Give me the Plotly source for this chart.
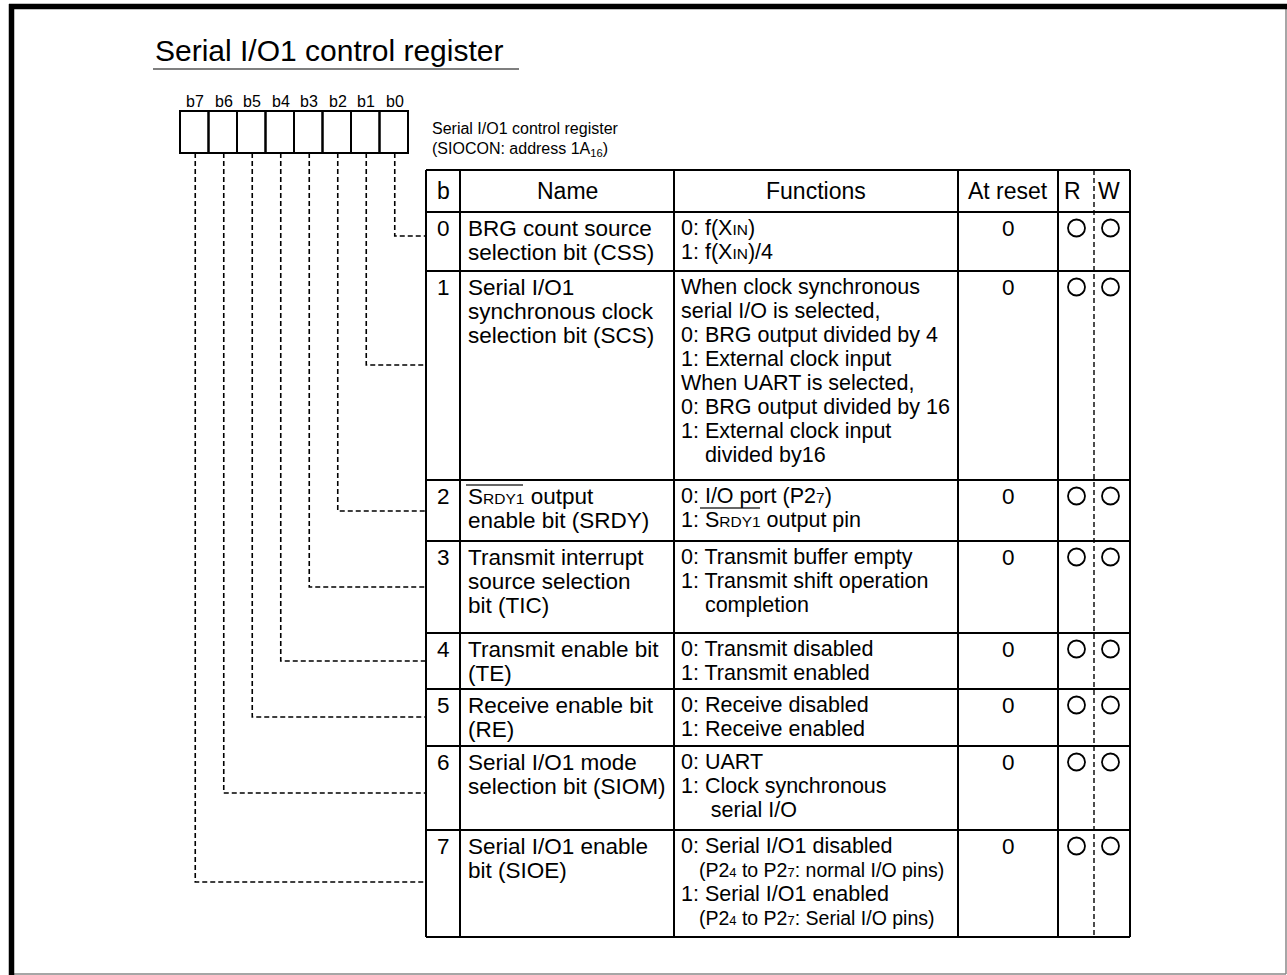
import plotly.graph_objects as go

W, H = 1287, 975
FONT = "Liberation Sans, Arial, Helvetica, sans-serif"
NB = "\u00a0"


def sm(s, px=15.5):
    return f"<span style='font-size:{px}px'>{s}</span>"


# ---------------- data ----------------
title = "Serial I/O1 control register"
caption = ["Serial I/O1 control register", "(SIOCON: address 1A<sub>16</sub>)"]
bit_labels = ["b7", "b6", "b5", "b4", "b3", "b2", "b1", "b0"]
header = ["b", "Name", "Functions", "At reset", "R", "W"]
bit_numbers = ["0", "1", "2", "3", "4", "5", "6", "7"]

names = [
    ["BRG count source", "selection bit (CSS)"],
    ["Serial I/O1", "synchronous clock", "selection bit (SCS)"],
    ["S" + sm("RDY1") + " output", "enable bit (SRDY)"],
    ["Transmit interrupt", "source selection", "bit (TIC)"],
    ["Transmit enable bit", "(TE)"],
    ["Receive enable bit", "(RE)"],
    ["Serial I/O1 mode", "selection bit (SIOM)"],
    ["Serial I/O1 enable", "bit (SIOE)"],
]

functions = [
    ["0: f(X" + sm("IN") + ")", "1: f(X" + sm("IN") + ")/4"],
    ["When clock synchronous", "serial I/O is selected,",
     "0: BRG output divided by 4", "1: External clock input",
     "When UART is selected,", "0: BRG output divided by 16",
     "1: External clock input", NB * 4 + "divided by16"],
    ["0: I/O port (P2" + sm("7") + ")", "1: S" + sm("RDY1") + " output pin"],
    ["0: Transmit buffer empty", "1: Transmit shift operation",
     NB * 4 + "completion"],
    ["0: Transmit disabled", "1: Transmit enabled"],
    ["0: Receive disabled", "1: Receive enabled"],
    ["0: UART", "1: Clock synchronous", NB * 5 + "serial I/O"],
    ["0: Serial I/O1 disabled",
     NB * 3 + sm("(P2" + sm("4", 13) + " to P2" + sm("7", 13) + ": normal I/O pins)", 19.5),
     "1: Serial I/O1 enabled",
     NB * 3 + sm("(P2" + sm("4", 13) + " to P2" + sm("7", 13) + ": Serial I/O pins)", 19.5)],
]

reset_values = ["0", "0", "0", "0", "0", "0", "0", "0"]
readable = [1, 1, 1, 1, 1, 1, 1, 1]
writable = [1, 1, 1, 1, 1, 1, 1, 1]

# ---------------- layout geometry ----------------
reg_left, reg_top, reg_bottom, cell_w = 180, 111, 153, 28.5
col_edges = [426, 460, 674, 958, 1058, 1130]
rw_split = 1094
tbl_top = 170
row_edges = [212, 271, 480, 541, 633, 689, 746, 830, 937]
leader_y = [236, 365, 511, 587, 661, 717, 793, 882]
first_off, line_gap = 16, 24
NAME_SIZE, FUNC_SIZE = 22.5, 21.5

shapes = []
annots = []


def line(x0, y0, x1, y1, width=2, color="black", dash="solid"):
    shapes.append(dict(type="line", x0=x0, y0=y0, x1=x1, y1=y1, xref="x", yref="y",
                       line=dict(color=color, width=width, dash=dash)))


def text(x, y, s, size=NAME_SIZE, xanchor="left"):
    annots.append(dict(x=x, y=y, xref="x", yref="y", text=s, showarrow=False,
                       xanchor=xanchor, yanchor="middle",
                       font=dict(family=FONT, size=size, color="black")))


# frame
line(10, 974, 1286, 974, width=1.5, color="#888888")
line(1286, 4, 1286, 974, width=1.5, color="#888888")
line(9, 6.5, 1287, 6.5, width=5.5)
line(11.5, 4, 11.5, 975, width=5.5)

# title
text(153, 50, title, size=30)
line(153, 69, 519, 69, width=1.5, color="#555555")

# register boxes and bit labels
for k, lab in enumerate(bit_labels):
    x0 = reg_left + k * cell_w
    shapes.append(dict(type="rect", x0=x0, x1=x0 + cell_w, y0=reg_top, y1=reg_bottom,
                       xref="x", yref="y", line=dict(color="black", width=2)))
    text(x0 + cell_w / 2 + 1, 101, lab, size=16, xanchor="center")

# caption
text(430, 128, caption[0], size=16)
text(430, 149, caption[1], size=16)

# leader lines (bit i -> row i)
for i in range(len(bit_numbers)):
    k = 7 - i
    xc = reg_left + k * cell_w + cell_w / 2 + 1
    shapes.append(dict(type="path", xref="x", yref="y",
                       path=f"M {xc},{reg_bottom} V {leader_y[i]} H {col_edges[0]}",
                       line=dict(color="black", width=1.6, dash="5px,3px")))

# table grid
bottom = row_edges[-1]
for xe in col_edges:
    line(xe, tbl_top, xe, bottom)
line(col_edges[0], tbl_top, col_edges[-1], tbl_top)
for ye in row_edges:
    line(col_edges[0], ye, col_edges[-1], ye)
line(rw_split, tbl_top, rw_split, bottom, width=1.4, dash="5px,3px")

# header
hy = (tbl_top + row_edges[0]) / 2
hx = [(col_edges[0] + col_edges[1]) / 2, (col_edges[1] + col_edges[2]) / 2,
      (col_edges[2] + col_edges[3]) / 2, (col_edges[3] + col_edges[4]) / 2,
      1072, 1109]
for h, x in zip(header, hx):
    text(x, hy, h, size=23, xanchor="center")

# rows
cy = []
for i in range(len(bit_numbers)):
    y0 = row_edges[i] + first_off
    cy.append(y0)
    text(hx[0], y0, bit_numbers[i], xanchor="center")
    for j, s in enumerate(names[i]):
        text(col_edges[1] + 6, y0 + j * line_gap, s)
    for j, s in enumerate(functions[i]):
        text(col_edges[2] + 5, y0 + j * line_gap, s, size=FUNC_SIZE)
    text(hx[3], y0, reset_values[i], xanchor="center")

# overlines for S_RDY1 (active-low signal)
line(466, 485, 523, 485, width=1.3, color="#333333")
line(700, 508, 760, 508, width=1.3, color="#333333")

circ = dict(symbol="circle-open", size=17, color="black", line=dict(width=1.8))
fig = go.Figure()
fig.add_trace(go.Scatter(
    x=[1076.5 for r in readable if r], y=[cy[i] for i, r in enumerate(readable) if r],
    mode="markers", marker=circ, hoverinfo="skip", showlegend=False))
fig.add_trace(go.Scatter(
    x=[1110.5 for w in writable if w], y=[cy[i] for i, w in enumerate(writable) if w],
    mode="markers", marker=circ, hoverinfo="skip", showlegend=False))

fig.update_layout(
    width=W, height=H, margin=dict(l=0, r=0, t=0, b=0),
    paper_bgcolor="white", plot_bgcolor="white",
    xaxis=dict(range=[0, W], visible=False, fixedrange=True),
    yaxis=dict(range=[H, 0], visible=False, fixedrange=True),
    shapes=shapes, annotations=annots, showlegend=False,
)
fig.write_html("out.html", config={"displayModeBar": False, "staticPlot": True},
               post_script="document.body.style.margin='0px';document.body.style.overflow='hidden';")
